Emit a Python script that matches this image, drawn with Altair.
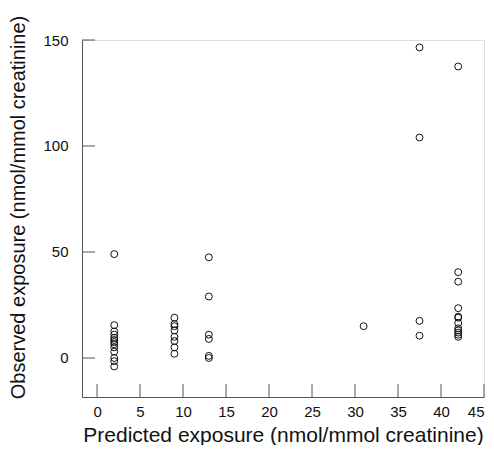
import altair as alt
import pandas as pd

# Predicted exposure groups and observed exposure values
x_vals = (
    [2] * 13
    + [9] * 8
    + [13] * 6
    + [31]
    + [37.5] * 4
    + [42] * 12
)
y_vals = (
    [49, 15.5, 12.5, 11, 9.5, 8.5, 7.5, 6.5, 5, 3, 0, -1.5, -4]
    + [19, 16, 15, 13, 10, 8, 5, 2]
    + [47.5, 29, 11, 9, 1, 0]
    + [15]
    + [146.5, 104, 17.5, 10.5]
    + [137.5, 40.5, 36, 23.5, 19.5, 19, 16.5, 14, 13, 12, 11, 10]
)
x_ticks = [0, 5, 10, 15, 20, 25, 30, 35, 40, 45]
y_ticks = [0, 50, 100, 150]

W, H = 402, 357
FONT = "Liberation Sans"

df = pd.DataFrame({"pred": x_vals, "obs": y_vals})
xt = pd.DataFrame({"t": x_ticks})
yt = pd.DataFrame({"t": y_ticks})

xscale = alt.Scale(domain=[-1.75, 45], nice=False, zero=False)
yscale = alt.Scale(domain=[-18.4, 150], nice=False, zero=False)

points = alt.Chart(df).mark_point(
    shape="circle", filled=False, size=48, stroke="#111", strokeWidth=1, opacity=1
).encode(
    x=alt.X("pred:Q", scale=xscale,
            axis=alt.Axis(values=x_ticks, title="Predicted exposure (nmol/mmol creatinine)",
                          ticks=False, tickSize=0, labelPadding=7, grid=False,
                          domainColor="#555", labelFontSize=15, labelColor="#111",
                          titleFontSize=21, titleFontWeight="normal", titleColor="#111",
                          titlePadding=5, labelFont=FONT, titleFont=FONT)),
    y=alt.Y("obs:Q", scale=yscale,
            axis=alt.Axis(values=y_ticks, title="Observed exposure (nmol/mmol creatinine)",
                          ticks=False, tickSize=0, labelPadding=14, grid=False,
                          domainColor="#555", labelFontSize=15, labelColor="#111",
                          titleFontSize=20, titleFontWeight="normal", titleColor="#111",
                          titleX=-64, titleY=167, titleAlign="center", titleBaseline="middle",
                          labelFont=FONT, titleFont=FONT)),
)

xtick_rules = alt.Chart(xt).mark_rule(color="#555", strokeWidth=1).encode(
    x=alt.X("t:Q", scale=xscale),
    y=alt.value(H),
    y2=alt.value(H - 13),
)
ytick_rules = alt.Chart(yt).mark_rule(color="#555", strokeWidth=1).encode(
    y=alt.Y("t:Q", scale=yscale),
    x=alt.value(0),
    x2=alt.value(13),
)

chart = alt.layer(points, xtick_rules, ytick_rules).properties(
    width=W, height=H,
    autosize=alt.AutoSizeParams(type="none"),
    padding={"left": 74, "top": 32, "right": 2, "bottom": 48},
).configure_view(strokeWidth=0, stroke="transparent").configure(background="white")

chart.save("out.html", embed_options={"renderer": "svg", "actions": False})
